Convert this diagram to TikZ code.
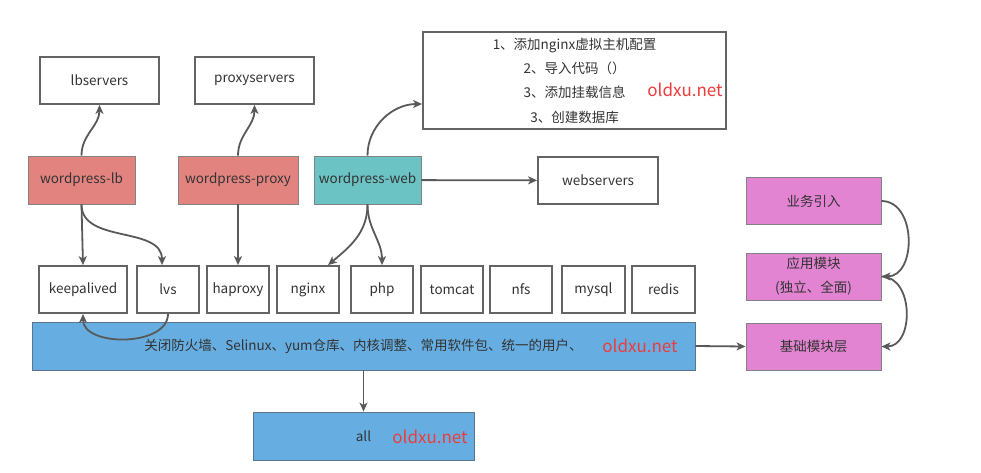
\documentclass[tikz,border=0pt]{standalone}
\usepackage{fontspec}
\setmainfont{Noto Sans CJK SC}
\usepackage{tikz}
\usetikzlibrary{arrows.meta, positioning}
\definecolor{linegray}{RGB}{89, 89, 89}
\definecolor{boxgray}{RGB}{100, 100, 100}
\definecolor{textgray}{RGB}{51, 51, 51}
\definecolor{rolered}{RGB}{227, 131, 128}
\definecolor{roleteal}{RGB}{108, 195, 195}
\definecolor{baseblue}{RGB}{102, 174, 226}
\definecolor{basedraw}{RGB}{90, 118, 142}
\definecolor{layerpink}{RGB}{227, 132, 210}
\definecolor{markred}{RGB}{238, 59, 59}

\begin{document}
\begin{tikzpicture}[
    x=1pt, y=-1pt,
    box/.style={rectangle, draw=boxgray, line width=1.8pt, fill=white, text=textgray, inner sep=0pt, minimum height=47pt, font=\fontsize{13.5}{16}\selectfont},
    rolebox/.style={rectangle, draw=boxgray!80, line width=0.9pt, text=textgray, inner sep=0pt, minimum width=107pt, minimum height=48pt, font=\fontsize{13.5}{16}\selectfont},
    basebox/.style={rectangle, draw=basedraw, fill=baseblue, line width=0.9pt, text=textgray, inner sep=0pt, minimum height=48pt, font=\fontsize{13.5}{16}\selectfont},
    layerbox/.style={rectangle, draw=boxgray!80, fill=layerpink, line width=0.9pt, text=textgray, inner sep=0pt, align=center, minimum width=135pt, minimum height=47pt, font=\fontsize{13.5}{24}\selectfont},
    watermark/.style={text=markred, inner sep=0pt, font=\fontsize{17}{20}\selectfont},
    arrow/.style={-{Stealth[length=9pt, width=8pt, inset=2.5pt]}, line width=1.8pt, color=linegray}
]
    \useasboundingbox (0,0) rectangle (981,473);

    % Nodes
    \node[box, minimum width=119pt] (lbservers) at (99.5,80.5) {lbservers};
    \node[box, minimum width=119pt] (proxyservers) at (254.5,80.5) {proxyservers};
    \node[box, minimum width=303pt, minimum height=97pt, align=center, font=\fontsize{13.5}{24.3}\selectfont] (webconf) at (574.5,80.5)
        {1、添加nginx虚拟主机配置\\2、导入代码（）\\3、添加挂载信息\\3、创建数据库};
    \node[watermark] (confmark) at (685,90) {oldxu.net};

    \node[rolebox, fill=rolered] (wplb) at (81.5,180) {wordpress-lb};
    \node[rolebox, fill=rolered, minimum width=120pt] (wpproxy) at (238,180) {wordpress-proxy};
    \node[rolebox, fill=roleteal] (wpweb) at (367.5,180) {wordpress-web};
    \node[box, minimum width=120pt] (webservers) at (598,180.5) {webservers};

    \foreach \name/\x/\w in {keepalived/83/88, lvs/168/62, haproxy/238/62, nginx/308/62, php/382/62,
                             tomcat/452/62, nfs/521/62, mysql/593.5/63, redis/663.5/63}
        \node[box, minimum width=\w] (\name) at (\x,289.5) {\name};

    \node[basebox, minimum width=663pt] (base) at (363.5,346) {关闭防火墙、Selinux、yum仓库、内核调整、常用软件包、统一的用户、\hspace{7pt}};
    \node[watermark] (basemark) at (640,346) {oldxu.net};
    \node[basebox, minimum width=221pt] (all) at (363.5,436) {all};
    \node[watermark] (allmark) at (430,437) {oldxu.net};

    \node[layerbox] (biz) at (813.5,201) {业务引入};
    \node[layerbox] (app) at (813.5,276.5) {应用模块\\(独立、全面)};
    \node[layerbox] (layer) at (813.5,346.5) {基础模块层};

    % Arrows
    \draw[arrow] (wplb.north) to[out=90, in=-90] (lbservers.south);
    \draw[arrow] (wpproxy.north) to[out=90, in=-90] (proxyservers.south);
    \draw[arrow] (wpweb.north) to[out=90, in=180] ([yshift=-23.5pt]webconf.west);
    \draw[arrow] (wpweb) -- (webservers);
    \draw[arrow] (wplb.south) -- (keepalived.north);
    \draw[arrow] (wplb.south) to[out=-90, in=90] ([xshift=-6pt]lvs.north);
    \draw[arrow] (wpproxy.south) -- (haproxy.north);
    \draw[arrow] (wpweb.south) to[out=-90, in=40] ([xshift=20pt]nginx.north);
    \draw[arrow] (wpweb.south) to[out=-90, in=90] (php.north);
    \draw[arrow] (lvs.south) to[out=-90, in=-90] (keepalived.south);
    \draw[arrow] (base) -- (all);
    \draw[arrow] (base.east) -- (layer.west);
    \draw[arrow] (biz.east) to[out=0, in=0, looseness=1.2] (app.east);
    \draw[arrow] (app.east) to[out=0, in=0, looseness=1.2] (layer.east);

\end{tikzpicture}
\end{document}
